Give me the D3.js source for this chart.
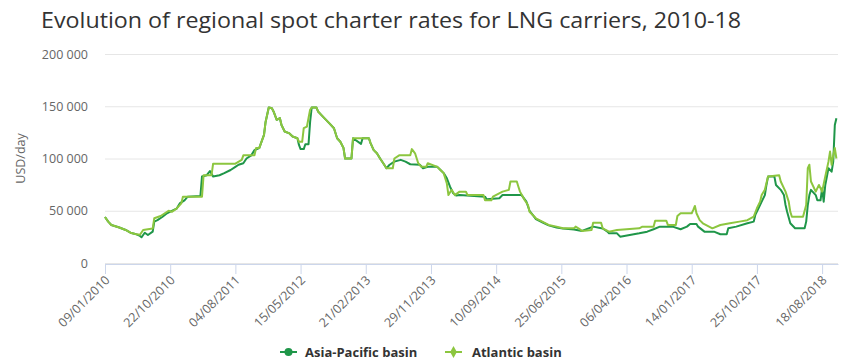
<!DOCTYPE html>
<html>
<head>
	<meta charset="utf-8">
	<title>LNG spot charter rates</title>
	<style type="text/css">
		html, body {
			margin: 0;
			padding: 0;
			background-color: #fff;
		}

		svg text {
			font-family: 'Open Sans', sans-serif;
		}

		.grid line {
			stroke: #e6e6e6;
		}

		.line {
			fill: none;
			stroke-width: 2px;
			stroke-linejoin: round;
		}
	</style>
</head>
<body>
	<div id="chart"></div>
	<script src="https://unpkg.com/d3@7.8.5/dist/d3.min.js"></script>
	<script type="text/javascript">
		// weekly categories: week 0 = 09/01/2010, one tick label every 41 weeks
		const tickWeeks = [0, 41, 82, 123, 164, 205, 246, 287, 328, 369, 410, 451];
		const tickLabels = ['09/01/2010', '22/10/2010', '04/08/2011', '15/05/2012', '21/02/2013', '29/11/2013',
			'10/09/2014', '25/06/2015', '06/04/2016', '14/01/2017', '25/10/2017', '18/08/2018'];
		const yTicks = [0, 50000, 100000, 150000, 200000];

		// Asia-Pacific basin (week, USD/day)
		const apWeeks = [0, 2, 4, 9, 13, 16, 19, 22, 23, 25, 27, 30, 31, 33, 36, 39, 42, 45, 47, 50, 52, 60, 61, 64, 66, 68, 72, 75,
			79, 82, 84, 87, 89, 92, 94, 97, 100, 101, 103, 105, 106, 108, 110, 111, 113, 116, 118, 121, 122, 123, 125, 126, 128,
			129, 130, 133, 134, 136, 139, 141, 144, 146, 148, 150, 151, 155, 156, 161, 162, 166, 167, 169, 171, 173, 175, 177,
			179, 182, 186, 189, 192, 198, 200, 203, 209, 211, 213, 215, 217, 219, 221, 223, 239, 240, 248, 250, 262, 265, 267,
			269, 271, 275, 279, 284, 288, 295, 300, 307, 313, 316, 317, 322, 324, 330, 336, 341, 345, 349, 357, 362, 366, 368,
			372, 373, 377, 383, 387, 391, 392, 397, 404, 408, 409, 411, 413, 415, 416, 417, 421, 422, 425, 427, 428, 429, 431,
			434, 440, 441, 442, 443, 444, 447, 448, 450, 451, 452, 453, 455, 457, 458, 459, 460];
		const apValues = [44000, 39600, 36400, 34000, 31600, 29000, 27800, 25900, 24600, 29000, 26800, 30000, 39600, 41000,
			44000, 47600, 49800, 52000, 57000, 60000, 63500, 64000, 82700, 84000, 88000, 82700, 84000, 86000,
			89000, 92000, 94000, 95500, 100000, 103000, 108000, 110000, 122600, 135000, 148800, 148000, 145000, 137000, 138600,
			132000, 125800, 124000, 121000, 119400, 113000, 109000, 109000, 113600, 113600,
			135000, 148800, 148800, 145000, 141800, 137000, 133800, 129000, 119400, 116000, 110000, 100000, 100000, 119400,
			114000, 119400, 119400, 114700, 108000, 105000, 100000, 95500, 90700,
			94000, 97000, 98700, 97000, 94500, 94000, 90700, 92000, 92000, 89000, 86000, 81000, 73000, 66800, 64500, 65000,
			63500, 61000, 62000, 65000, 65000, 58700, 50000,
			46000, 42000, 39000, 36000, 34000, 33000, 32000, 30700, 34800, 33000, 30000, 28400, 28400, 25200, 26800, 28400,
			30000, 32300, 34800, 34800, 32300, 34800, 37400,
			37400, 34800, 30000, 30000, 27500, 27500, 33200, 34800, 38000, 39600, 46000, 52400, 58700, 65000, 74700, 82700,
			82700, 74700, 70000, 65000, 55500, 49000, 38000,
			33200, 33200, 39600, 55500, 65000, 70000, 65000, 60000, 60000, 71500, 58700, 74700, 90700, 87400, 97000, 132000,
			138600];

		// Atlantic basin (week, USD/day)
		const atWeeks = [0, 2, 4, 9, 13, 16, 19, 22, 24, 30, 31, 35, 40, 42, 45, 48, 49, 61, 62, 67, 68, 82, 86, 87, 94, 95, 97,
			100, 101, 103, 105, 106, 108, 110, 111, 113, 116, 118, 121, 122, 124, 125, 127, 129, 130, 133, 134, 136, 139, 141,
			144, 146, 148, 150, 151, 155, 156, 166, 167, 169, 171, 173, 175, 177, 181, 182, 185, 192, 193, 195, 197, 199, 202,
			203, 209, 211, 213, 215, 216, 218, 220, 223, 227, 228, 238, 239, 243, 244, 250, 254, 255, 259, 260, 261, 264, 266,
			267, 269, 271, 275, 279, 284, 288, 295, 296, 298, 300, 306, 307, 312, 313, 317, 322, 328, 336, 338, 345, 346, 353,
			354, 359, 360, 362, 369, 370, 371, 372, 374, 376, 382, 387, 393, 399, 404, 408, 410, 412, 413, 415, 417, 424, 425,
			428, 430, 431, 432, 439, 441, 442, 443, 444, 447, 449, 451, 453, 455, 456, 457, 458, 459, 460];
		const atValues = [44000, 39600, 36400, 34000, 31600, 29000, 27800, 27000, 31600, 33000, 42800, 45000, 50000, 49000,
			52000, 57000, 63500, 63500, 84000, 84000, 95000, 95000, 98700, 103000, 103000, 110000, 110000,
			122600, 135000, 148800, 148000, 145000, 137000, 138600, 132000, 125800, 124000, 121000, 119400, 116000, 116000,
			129000, 130600, 146600, 148800, 148800, 145000, 141800, 137000, 133800,
			129000, 119400, 116000, 110000, 100000, 100000, 119400, 119400, 114700, 108000, 105000, 100000, 95500, 90700,
			90700, 100000, 103000, 103000, 109000, 105000, 95500, 92000, 92000,
			95500, 92000, 89000, 86000, 76000, 65000, 70000, 65000, 68300, 68300, 65000, 65000, 60000, 60000, 63500, 68300,
			70000, 78000, 78000, 73000, 68300, 60000, 55500,
			49000, 46000, 42800, 39600, 36400, 34800, 33200, 33200, 34800, 33000, 30700, 31600, 38600, 38600, 33200, 30000,
			31600, 32300, 33200, 34800, 34800, 40500, 40500,
			36400, 36400, 45000, 47600, 47600, 50800, 54600, 47600, 41000, 38000, 33200, 36400, 38000, 39600, 41000, 44300,
			52400, 58700, 65000, 70000, 82700, 84000, 78000,
			68300, 58700, 49000, 44300, 44300, 55500, 90700, 94000, 78000, 68300, 74700, 68300, 82700, 97000, 106600, 94000,
			103000, 110000, 100000];

		const apColor = '#1f9649';
		const atColor = '#8cc63f';

		const width = 865, height = 364;
		const plot = { left: 105, right: 838, top: 54, bottom: 263 };

		const svg = d3.select('#chart')
			.append('svg')
			.attr('width', width)
			.attr('height', height);

		svg.append('text')
			.attr('x', 41)
			.attr('y', 28)
			.attr('fill', '#333')
			.attr('textLength', 700)
			.attr('lengthAdjust', 'spacingAndGlyphs')
			.style('font-size', '21px')
			.text('Evolution of regional spot charter rates for LNG carriers, 2010-18');

		const xScale = d3.scaleLinear()
			.domain([0, 461])
			.range([plot.left, plot.right]);

		const yScale = d3.scaleLinear()
			.domain([0, 200000])
			.range([plot.bottom, plot.top]);

		// horizontal grid + y labels
		const yAxis = d3.axisLeft(yScale)
			.tickValues(yTicks)
			.tickSize(-(plot.right - plot.left))
			.tickPadding(17)
			.tickFormat(d => d3.format(',')(d).replace(/,/g, ' '));

		const yg = svg.append('g')
			.attr('class', 'grid')
			.attr('transform', `translate(${plot.left},0)`)
			.call(yAxis);
		yg.select('.domain').remove();
		yg.selectAll('text')
			.attr('fill', '#666')
			.style('font-size', '12.5px');

		svg.append('text')
			.attr('transform', `translate(25,${(plot.top + plot.bottom) / 2}) rotate(-90)`)
			.attr('text-anchor', 'middle')
			.attr('fill', '#666')
			.style('font-size', '12.5px')
			.text('USD/day');

		// x axis
		const xAxis = d3.axisBottom(xScale)
			.tickValues(tickWeeks)
			.tickSize(10)
			.tickSizeOuter(0)
			.tickFormat((d, i) => tickLabels[i]);

		const xg = svg.append('g')
			.attr('transform', `translate(0,${plot.bottom + 1})`)
			.call(xAxis);
		xg.select('.domain').attr('stroke', '#ccd6eb');
		xg.selectAll('.tick line').attr('stroke', '#ccd6eb');
		xg.selectAll('text')
			.attr('fill', '#666')
			.style('font-size', '12.5px')
			.attr('text-anchor', 'end')
			.attr('dy', null)
			.attr('y', 0)
			.attr('transform', 'translate(5,17) rotate(-45)');

		const line = d3.line()
			.x(d => xScale(d[0]))
			.y(d => yScale(d[1]));

		const apData = apWeeks.map((w, i) => [w, apValues[i]]);
		const atData = atWeeks.map((w, i) => [w, atValues[i]]);

		svg.append('path')
			.attr('class', 'line')
			.attr('stroke', apColor)
			.attr('d', line(apData));

		svg.append('path')
			.attr('class', 'line')
			.attr('stroke', atColor)
			.attr('d', line(atData));

		// legend
		const legend = svg.append('g').attr('transform', 'translate(280,352)');

		legend.append('line')
			.attr('x1', 0).attr('x2', 17)
			.attr('stroke', apColor).attr('stroke-width', 2);
		legend.append('circle')
			.attr('cx', 8.5).attr('r', 4)
			.attr('fill', apColor);
		legend.append('text')
			.attr('x', 25).attr('y', 5)
			.attr('fill', '#333')
			.style('font-size', '13px')
			.style('font-weight', 'bold')
			.text('Asia-Pacific basin');

		legend.append('line')
			.attr('x1', 165).attr('x2', 182)
			.attr('stroke', atColor).attr('stroke-width', 2);
		legend.append('path')
			.attr('transform', 'translate(173.5,0)')
			.attr('d', d3.symbol(d3.symbolDiamond, 40)())
			.attr('fill', atColor);
		legend.append('text')
			.attr('x', 192).attr('y', 5)
			.attr('fill', '#333')
			.style('font-size', '13px')
			.style('font-weight', 'bold')
			.text('Atlantic basin');
	</script>
</body>
</html>
